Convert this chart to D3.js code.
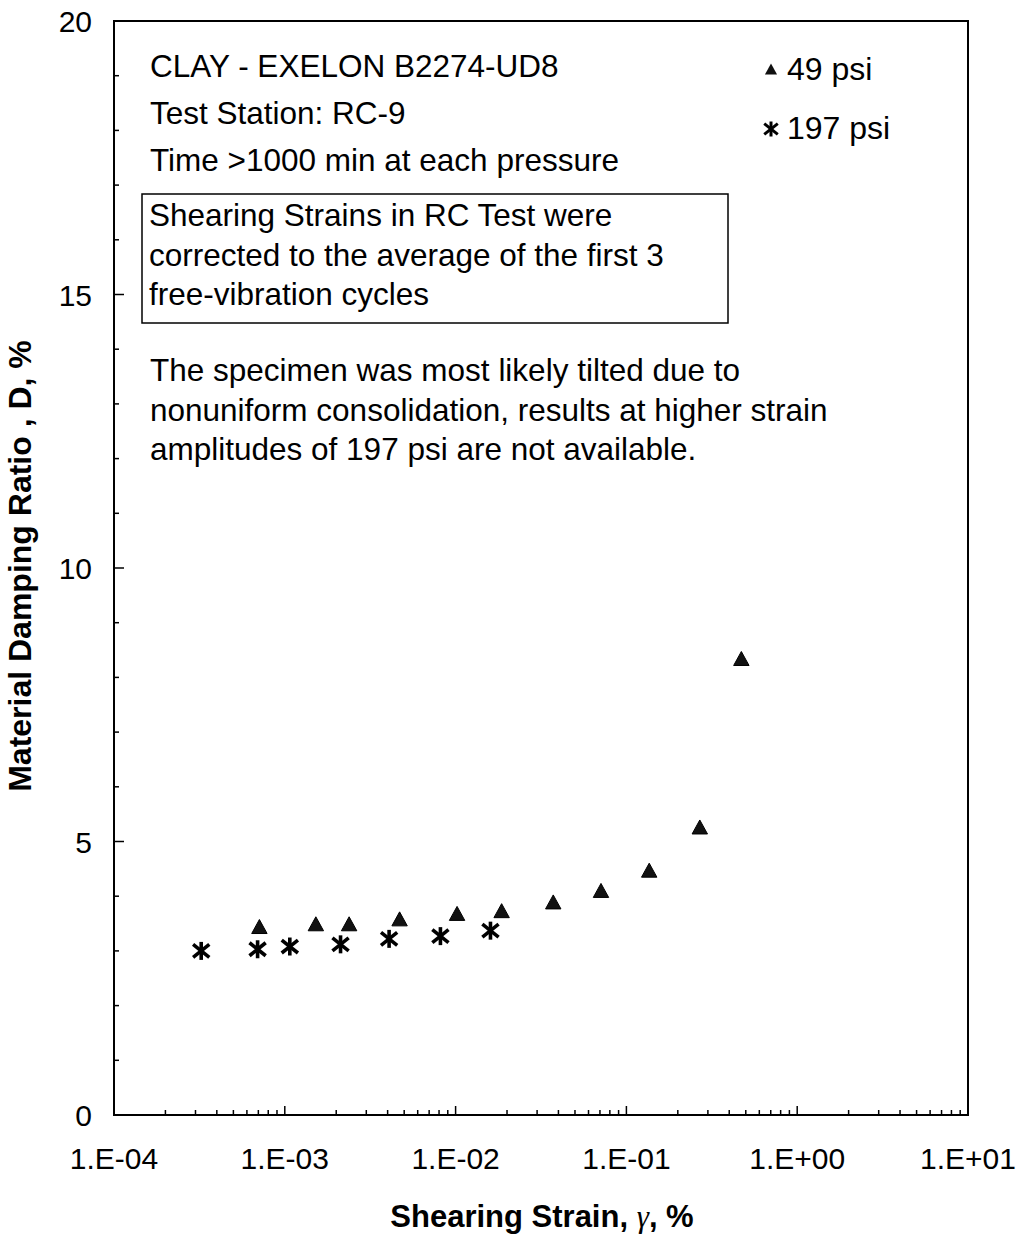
<!DOCTYPE html>
<html>
<head>
<meta charset="utf-8">
<script src="https://cdn.jsdelivr.net/npm/d3@7"></script>
<style>
  html, body { margin: 0; padding: 0; background: #fff; }
  svg { display: block; }
  text { font-family: "Liberation Sans", Arial, sans-serif; fill: #000; }
</style>
</head>
<body>
<svg id="chart" width="1026" height="1234"></svg>
<script>
// Resonant column damping results, two confining pressures
const strain49 = [7.1e-4, 1.52e-3, 2.38e-3, 4.7e-3, 1.02e-2, 1.86e-2, 3.73e-2, 7.1e-2, 0.136, 0.269, 0.471];
const damping49 = [3.42, 3.47, 3.47, 3.56, 3.66, 3.71, 3.87, 4.08, 4.45, 5.24, 8.32];
const strain197 = [3.24e-4, 6.93e-4, 1.07e-3, 2.12e-3, 4.08e-3, 8.15e-3, 1.6e-2];
const damping197 = [3.0, 3.03, 3.08, 3.12, 3.22, 3.27, 3.37];
const xTickValues = [1e-4, 1e-3, 1e-2, 1e-1, 1e0, 1e1];
const xTickLabels = ["1.E-04", "1.E-03", "1.E-02", "1.E-01", "1.E+00", "1.E+01"];
const yTickValues = [0, 5, 10, 15, 20];
const seriesNames = ["49 psi", "197 psi"];

const svg = d3.select("#chart");
const m = { left: 114, right: 968, top: 21, bottom: 1115 };

const x = d3.scaleLog().domain([1e-4, 1e1]).range([m.left, m.right]);
const y = d3.scaleLinear().domain([0, 20]).range([m.bottom, m.top]);

// frame
svg.append("rect")
  .attr("x", m.left).attr("y", m.top)
  .attr("width", m.right - m.left).attr("height", m.bottom - m.top)
  .attr("fill", "none").attr("stroke", "#000").attr("stroke-width", 2);

// x minor + major ticks (pointing inward)
const xMinor = [];
for (let e = -4; e < 1; e++) for (let k = 2; k <= 9; k++) xMinor.push(k * Math.pow(10, e));
svg.append("g").selectAll("line").data(xMinor).join("line")
  .attr("x1", d => x(d)).attr("x2", d => x(d))
  .attr("y1", m.bottom).attr("y2", m.bottom - 5)
  .attr("stroke", "#000").attr("stroke-width", 1.5);
svg.append("g").selectAll("line").data(xTickValues).join("line")
  .attr("x1", d => x(d)).attr("x2", d => x(d))
  .attr("y1", m.bottom).attr("y2", m.bottom - 9)
  .attr("stroke", "#000").attr("stroke-width", 1.5);
svg.append("g").selectAll("text").data(xTickValues).join("text")
  .attr("x", d => x(d)).attr("y", 1169)
  .attr("text-anchor", "middle").attr("font-size", 30)
  .text((d, i) => xTickLabels[i]);

// y ticks every unit (inward)
svg.append("g").selectAll("line").data(d3.range(1, 20)).join("line")
  .attr("x1", m.left).attr("x2", d => m.left + (d % 5 === 0 ? 10 : 5))
  .attr("y1", d => y(d)).attr("y2", d => y(d))
  .attr("stroke", "#000").attr("stroke-width", 1.5);
svg.append("g").selectAll("text").data(yTickValues).join("text")
  .attr("x", 92).attr("y", d => y(d) + 11)
  .attr("text-anchor", "end").attr("font-size", 30)
  .text(d => d);

// axis titles
svg.append("text")
  .attr("x", 542).attr("y", 1227)
  .attr("text-anchor", "middle").attr("font-size", 31).attr("font-weight", "bold")
  .html('Shearing Strain, <tspan font-family="Liberation Serif" font-weight="normal" font-style="italic">γ</tspan>, %');
svg.append("text")
  .attr("transform", "translate(31,566) rotate(-90)")
  .attr("text-anchor", "middle").attr("font-size", 32).attr("font-weight", "bold")
  .text("Material Damping Ratio , D, %");

// marker shapes
const triPath = s => `M0,${-s * 0.6}L${s * 0.55},${s * 0.4}L${-s * 0.55},${s * 0.4}Z`;
function drawStar(g, s, w) {
  const r = s / 2;
  g.append("line").attr("x1", 0).attr("x2", 0).attr("y1", -r).attr("y2", r);
  g.append("line").attr("x1", -r * 0.9).attr("x2", r * 0.9).attr("y1", -r * 0.72).attr("y2", r * 0.72);
  g.append("line").attr("x1", -r * 0.9).attr("x2", r * 0.9).attr("y1", r * 0.72).attr("y2", -r * 0.72);
  g.selectAll("line").attr("stroke", "#000").attr("stroke-width", w);
}

// 197 psi series
const d197 = strain197.map((s, i) => ({ s, d: damping197[i] }));
svg.append("g").selectAll("g").data(d197).join("g")
  .attr("transform", p => `translate(${x(p.s)},${y(p.d)})`)
  .each(function () { drawStar(d3.select(this), 18, 3.6); });

// 49 psi series
const d49 = strain49.map((s, i) => ({ s, d: damping49[i] }));
svg.append("g").selectAll("path").data(d49).join("path")
  .attr("transform", p => `translate(${x(p.s)},${y(p.d)})`)
  .attr("d", triPath(14))
  .attr("fill", "#111").attr("stroke", "#000").attr("stroke-width", 1);

// legend
const lg = svg.append("g");
lg.append("path").attr("transform", "translate(771,70)").attr("d", triPath(11)).attr("fill", "#111");
lg.append("text").attr("x", 787).attr("y", 80).attr("font-size", 32).text(seriesNames[0]);
drawStar(lg.append("g").attr("transform", "translate(771,129)"), 15, 3);
lg.append("text").attr("x", 787).attr("y", 139).attr("font-size", 32).text(seriesNames[1]);

// notes
const notes = [
  ["CLAY - EXELON B2274-UD8", 77],
  ["Test Station: RC-9", 124],
  ["Time >1000 min at each pressure", 171]
];
svg.append("g").selectAll("text").data(notes).join("text")
  .attr("x", 150).attr("y", d => d[1]).attr("font-size", 31.5).text(d => d[0]);

svg.append("rect").attr("x", 142).attr("y", 194).attr("width", 586).attr("height", 129)
  .attr("fill", "none").attr("stroke", "#000").attr("stroke-width", 1.5);
const boxLines = ["Shearing Strains in RC Test were", "corrected to the average of the first 3", "free-vibration cycles"];
svg.append("g").selectAll("text").data(boxLines).join("text")
  .attr("x", 149).attr("y", (d, i) => 226 + i * 39.5).attr("font-size", 31.5).text(d => d);

const para = ["The specimen was most likely tilted due to", "nonuniform consolidation, results at higher strain", "amplitudes of 197 psi are not available."];
svg.append("g").selectAll("text").data(para).join("text")
  .attr("x", 150).attr("y", (d, i) => 381 + i * 39.5).attr("font-size", 31.5).text(d => d);
</script>
</body>
</html>
